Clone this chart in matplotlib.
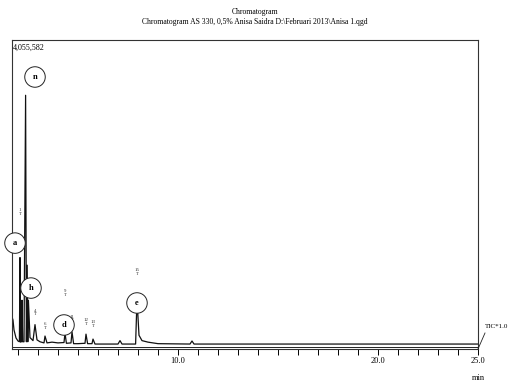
import matplotlib.pyplot as plt

# trace (time in min, intensity)
times = [1.70, 1.75, 1.80, 1.90, 2.00, 2.07, 2.10, 2.13, 2.17, 2.20, 2.23, 2.30,
         2.38, 2.42, 2.46, 2.49, 2.52, 2.60, 2.75, 2.85, 2.95, 3.10, 3.30, 3.35,
         3.45, 3.70, 4.00, 4.30, 4.35, 4.42, 4.65, 4.70, 4.78, 5.00, 5.35, 5.40,
         5.48, 5.70, 5.75, 5.85, 7.00, 7.10, 7.20, 7.88, 7.95, 8.05, 8.20, 8.50,
         9.00, 10.60, 10.70, 10.80, 25.00]
tic = [420000, 380000, 250000, 145000, 105000, 95000, 1200000, 90000, 95000, 640000, 95000, 95000,
       3330000, 95000, 1100000, 95000, 640000, 150000, 110000, 320000, 120000, 95000, 80000, 170000,
       80000, 90000, 80000, 85000, 210000, 75000, 80000, 225000, 70000, 70000, 75000, 195000,
       70000, 70000, 130000, 65000, 65000, 110000, 65000, 65000, 650000, 180000, 110000, 90000,
       70000, 65000, 105000, 65000, 65000]
max_val = 4055582

peak_labels = ['a', 'n', 'h', 'd', 'e']
label_t = [1.85, 2.85, 2.65, 4.30, 7.95]
label_y = [1390000, 3570000, 800000, 315000, 604000]

marker_t = [2.10, 4.35, 7.95, 2.85, 3.35, 4.70, 5.40, 5.75]
marker_y = [1750000, 680000, 960000, 430000, 250000, 350000, 300000, 280000]
marker_txt = ['1', '9', '15', '4', '6', '11', '12', '13']

fig = plt.figure(figsize=(5.1, 3.84), dpi=100)
ax = fig.add_axes([12/510, 1-349/384, 466/510, 309/384])
serif = 'Liberation Serif'

ax.plot(times, tic, color='#111111', lw=0.9)
ax.axhline(30000, color='#222222', lw=0.7)
ax.set_xlim(1.7, 25.0)
ax.set_ylim(0, max_val)

ax.set_xticks(range(2, 26))
ax.set_xticklabels(['10.0' if t == 10 else '20.0' if t == 20 else '25.0' if t == 25 else ''
                    for t in range(2, 26)], fontsize=6, family=serif)
ax.tick_params(axis='x', length=4, width=0.7, pad=2)
ax.set_yticks([])
for s in ax.spines.values():
    s.set_linewidth(0.8)
    s.set_color('#333333')

for lab, t, y in zip(peak_labels, label_t, label_y):
    ax.text(t, y, lab, ha='center', va='center', fontsize=6, family=serif, zorder=5,
            fontweight='bold',
            bbox=dict(boxstyle='circle,pad=0.75', fc='white', ec='#222222', lw=0.7))

for t, y, s in zip(marker_t, marker_y, marker_txt):
    ax.text(t, y, s + '\n' + 'T', ha='center', va='bottom', fontsize=3.5, family=serif,
            linespacing=0.9, color='#333333')

ax.text(0.002, 0.988, '4,055,582', transform=ax.transAxes, ha='left', va='top',
        fontsize=5.8, family=serif)

fig.text(0.5, 1-12/384, 'Chromatogram', ha='center', va='center', fontsize=5.5, family=serif)
fig.text(0.5, 1-22/384, 'Chromatogram AS 330, 0,5% Anisa Saidra D:\\Februari 2013\\Anisa 1.qgd',
         ha='center', va='center', fontsize=5.5, family=serif)

# TIC label with leader line
fig.add_artist(plt.Line2D([478/510, 485/510], [1-349/384, 1-333/384], color='#222222', lw=0.6))
fig.text(485/510, 1-327/384, 'TIC*1.0', ha='left', va='center', fontsize=5, family=serif)
fig.text(478/510, 1-378/384, 'min', ha='center', va='center', fontsize=6, family=serif)

fig.savefig('out.png', dpi=100)
